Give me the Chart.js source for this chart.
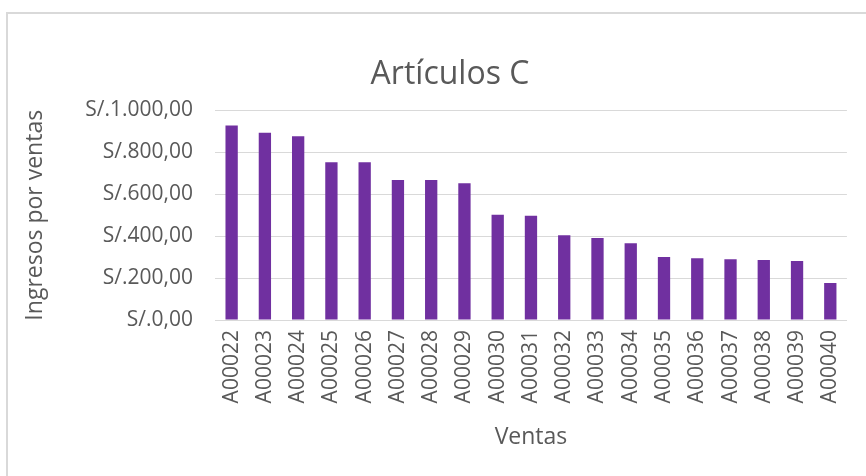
<!DOCTYPE html>
<html>
<head>
<meta charset="utf-8">
<script src="https://cdn.jsdelivr.net/npm/chart.js@4"></script>
<style>
  html, body { margin: 0; padding: 0; background: #fff; overflow: hidden; }
  #wrap { position: absolute; left: 0; top: 0; width: 866px; height: 476px; overflow: hidden; }
  #frame { position: absolute; left: 6px; top: 12px; width: 900px; height: 500px; border: 2px solid #d9d9d9; box-sizing: border-box; }
  canvas { position: absolute; left: 0; top: 0; }
</style>
</head>
<body>
<div id="wrap">
  <div id="frame"></div>
  <canvas id="chart" width="866" height="476"></canvas>
</div>
<script>
const categories = ['A00022', 'A00023', 'A00024', 'A00025', 'A00026', 'A00027', 'A00028', 'A00029', 'A00030', 'A00031',
  'A00032', 'A00033', 'A00034', 'A00035', 'A00036', 'A00037', 'A00038', 'A00039', 'A00040'];
const ingresos = [928, 893, 877, 753, 753, 668, 668, 652, 502, 498, 404, 392, 367, 301, 295, 290, 287, 282, 177];
const yTicks = [0, 200, 400, 600, 800, 1000];

const textColor = '#595959';
const font = '"Open Sans", "Noto Sans", sans-serif';

const soles = v => 'S/.' + v.toLocaleString('de-DE', { minimumFractionDigits: 2, maximumFractionDigits: 2 });

const ctx = document.getElementById('chart');
new Chart(ctx, {
  type: 'bar',
  data: {
    labels: categories,
    datasets: [{
      label: 'Ingresos por ventas',
      data: ingresos,
      backgroundColor: '#7030a0',
      barPercentage: 0.37,
      categoryPercentage: 1
    }]
  },
  options: {
    responsive: false,
    animation: false,
    layout: { padding: { left: 53, right: 19, top: 10, bottom: 25 } },
    plugins: {
      legend: { display: false },
      tooltip: { enabled: false },
      title: {
        display: true,
        text: 'Artículos C',
        color: textColor,
        font: { family: font, size: 32, weight: 'normal' },
        padding: { top: 46, bottom: 16 }
      }
    },
    scales: {
      x: {
        grid: { display: false, drawTicks: false },
        border: { color: '#d9d9d9', width: 1 },
        ticks: {
          color: textColor,
          font: { family: font, size: 21 },
          minRotation: 90,
          maxRotation: 90,
          padding: 10,
          autoSkip: false
        },
        title: {
          display: true,
          text: 'Ventas',
          color: textColor,
          font: { family: font, size: 23 },
          padding: { top: 10, bottom: 0 }
        }
      },
      y: {
        min: 0,
        max: 1000,
        afterBuildTicks: axis => { axis.ticks = yTicks.map(v => ({ value: v })); },
        afterFit: axis => { axis.width = 162; },
        grid: { color: '#d9d9d9', drawTicks: false, lineWidth: 1 },
        border: { display: false },
        ticks: {
          color: textColor,
          font: { family: font, size: 21 },
          padding: 22,
          callback: v => soles(v)
        },
        title: {
          display: true,
          text: 'Ingresos por ventas',
          color: textColor,
          font: { family: font, size: 23 },
          padding: { top: -31, bottom: 0 }
        }
      }
    }
  }
});
</script>
</body>
</html>
